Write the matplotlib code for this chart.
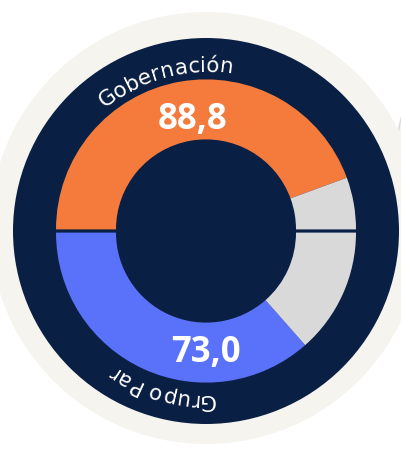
"""
doble medio donut: Gobernación vs Grupo Par
"""
import numpy as np
import matplotlib
matplotlib.use("Agg")
import matplotlib.pyplot as plt
from matplotlib.patches import Circle
from matplotlib.font_manager import FontProperties

# datos
grupos = ["Gobernación", "Grupo Par"]
valores = [88.8, 73.0]
total = 100.0

colores = ["#f47b3c", "#5a72f9"]
gris = "#d9d9d9"
azul_osc = "#0a1f44"
fondo = "#f6f4ef"

W, H = 402, 451
cx, cy = 206, H - 231
r_ext, r_int = 150, 90
gap = 1.6

fig = plt.figure(figsize=(W / 100, H / 100), dpi=100)
fig.patch.set_facecolor("white")
ax = fig.add_axes([0, 0, 1, 1])

# circulos de fondo
ax.add_patch(Circle((600, H - 168), 205, facecolor=fondo, edgecolor="#dcd9d3", lw=1))
ax.add_patch(Circle((cx, H - 228), 216, facecolor=fondo, edgecolor="none"))
ax.add_patch(Circle((cx, cy), 193, facecolor=azul_osc, edgecolor="none"))

# medio donut superior (sentido horario desde la izquierda)
v = valores[0]
ax.pie([v, total - v, total], startangle=180, counterclock=False,
       colors=[colores[0], gris, "none"], radius=r_ext, center=(cx, cy + gap),
       wedgeprops=dict(width=r_ext - r_int, linewidth=0), frame=True)
# medio donut inferior (antihorario desde la izquierda)
v = valores[1]
ax.pie([v, total - v, total], startangle=180, counterclock=True,
       colors=[colores[1], gris, "none"], radius=r_ext, center=(cx, cy - gap),
       wedgeprops=dict(width=r_ext - r_int, linewidth=0), frame=True)
ax.set_xlim(0, W)
ax.set_ylim(0, H)
ax.set_aspect("equal")
ax.axis("off")


def fmt(x):
    return f"{x:.1f}".replace(".", ",")


fp_num = dict(family="Open Sans", weight="bold", size=25, color="white")
a = np.radians(97)
ax.text(cx + 112 * np.cos(a), cy + 112 * np.sin(a), fmt(valores[0]),
        ha="center", va="center", **fp_num)
a = np.radians(270)
ax.text(cx + 122 * np.cos(a), cy + 122 * np.sin(a), fmt(valores[1]),
        ha="center", va="center", **fp_num)

# texto curvo
fig.canvas.draw()
renderer = fig.canvas.get_renderer()
prop = FontProperties(family="DejaVu Sans", size=15.5)


def texto_curvo(txt, r, centro):
    anchos = []
    for ch in txt:
        w, h, d = renderer.get_text_width_height_descent(ch, prop, ismath=False)
        anchos.append(w * 1.0)
    span = sum(anchos) / r
    ang = np.radians(centro) + span / 2
    acum = 0
    for ch, w in zip(txt, anchos):
        t = ang - (acum + w / 2) / r
        acum += w
        ax.text(cx + r * np.cos(t), cy + r * np.sin(t), ch, fontproperties=prop,
                color="white", rotation=np.degrees(t) - 90,
                rotation_mode="anchor", ha="center", va="baseline")


texto_curvo(grupos[0], 159, 105)
texto_curvo(grupos[1], 163, -106)

fig.savefig("out.png", dpi=100, facecolor=fig.get_facecolor())
